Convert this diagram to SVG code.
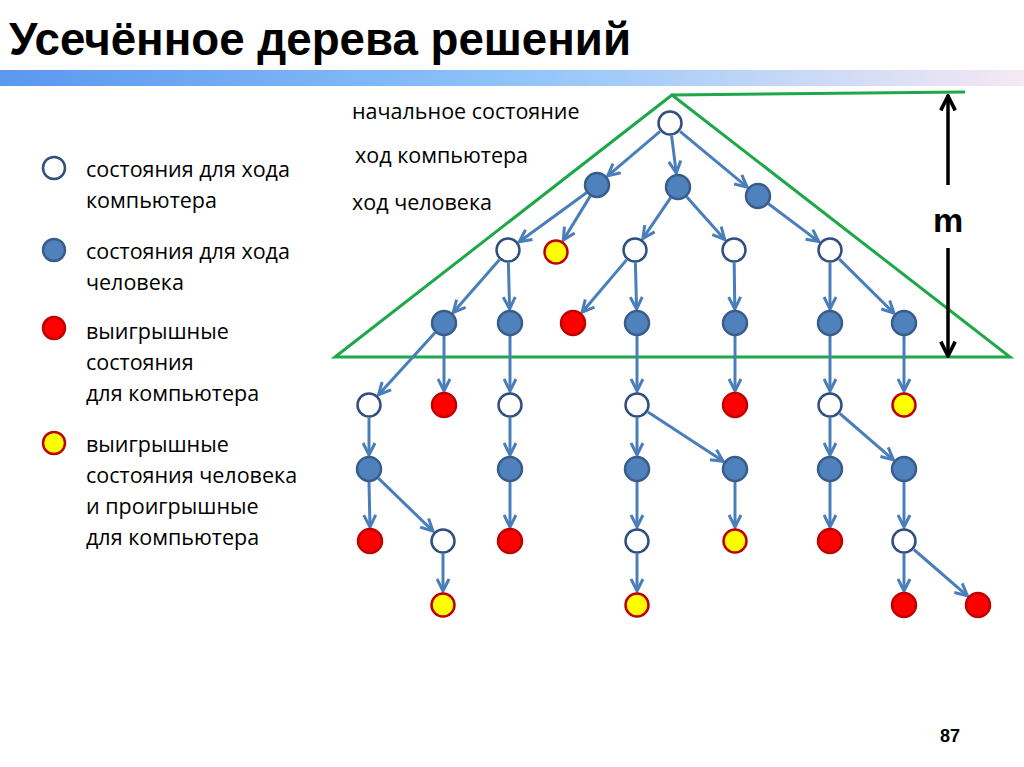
<svg xmlns="http://www.w3.org/2000/svg" width="1024" height="767" viewBox="0 0 1024 767">
<style>
.t{font-family:"Open Sans","Noto Sans",sans-serif;font-size:21.5px;fill:#000}
.e{stroke:#4a7ebb;stroke-width:3;fill:none;marker-end:url(#ah)}
.w{fill:#fff;stroke:#2f4f7f;stroke-width:2.5}
.b{fill:#4f81bd;stroke:#385d8a;stroke-width:2.5}
.r{fill:#ff0000;stroke:#c00000;stroke-width:2.5}
.y{fill:#ffff00;stroke:#c00000;stroke-width:2.5}
</style>
<defs>
<linearGradient id="bar" x1="0" x2="1" y1="0" y2="0">
<stop offset="0" stop-color="#5b97ee"/>
<stop offset="0.5" stop-color="#8ec4fa"/>
<stop offset="1" stop-color="#f6e8f4"/>
</linearGradient>
<marker id="ah" markerUnits="userSpaceOnUse" viewBox="0 0 10 10" markerWidth="15" markerHeight="15" refX="9" refY="5" orient="auto">
<path d="M1,1 L9,5 L1,9" fill="none" stroke="#4a7ebb" stroke-width="2"/>
</marker>
<marker id="bk" markerUnits="userSpaceOnUse" viewBox="0 0 10 10" markerWidth="18" markerHeight="18" refX="9" refY="5" orient="auto">
<path d="M1,1 L9,5 L1,9" fill="none" stroke="#000" stroke-width="2"/>
</marker>
</defs>
<rect width="1024" height="767" fill="#fff"/>
<text x="9" y="55" font-family="'Liberation Sans Narrow','Liberation Sans',sans-serif" font-weight="bold" font-size="46" textLength="622" lengthAdjust="spacingAndGlyphs">Усечённое дерева решений</text>
<rect x="0" y="70" width="1024" height="16" fill="url(#bar)"/>

<g id="legend">
<circle class="w" cx="54" cy="168" r="11"/>
<text class="t" x="86" y="177">состояния для хода</text>
<text class="t" x="86" y="208">компьютера</text>
<circle class="b" cx="54" cy="250" r="11"/>
<text class="t" x="86" y="259">состояния для хода</text>
<text class="t" x="86" y="290">человека</text>
<circle class="r" cx="54" cy="328" r="11"/>
<text class="t" x="86" y="339">выигрышные</text>
<text class="t" x="86" y="370">состояния</text>
<text class="t" x="86" y="401">для компьютера</text>
<circle class="y" cx="54" cy="443" r="11"/>
<text class="t" x="86" y="452">выигрышные</text>
<text class="t" x="86" y="483">состояния человека</text>
<text class="t" x="86" y="514">и проигрышные</text>
<text class="t" x="86" y="545">для компьютера</text>
</g>

<g id="labels">
<text class="t" x="352" y="119">начальное состояние</text>
<text class="t" x="355" y="163">ход компьютера</text>
<text class="t" x="352" y="210">ход человека</text>
</g>

<g id="bound" fill="none" stroke="#1fa84a" stroke-width="3">
<path d="M335,357 L672,95 L1010,357 Z"/>
<line x1="672" y1="95" x2="965" y2="92"/>
</g>
<g id="depth">
<line x1="948" y1="185" x2="948" y2="96" stroke="#000" stroke-width="3.5" marker-end="url(#bk)"/>
<line x1="948" y1="248" x2="948" y2="356" stroke="#000" stroke-width="3.5" marker-end="url(#bk)"/>
<text x="948" y="232" text-anchor="middle" font-family="'Liberation Sans',sans-serif" font-weight="bold" font-size="34">m</text>
</g>

<g id="edges">
<line class="e" x1="660.1" y1="131.4" x2="607.7" y2="175.9"/>
<line class="e" x1="671.6" y1="135.9" x2="676.3" y2="173.1"/>
<line class="e" x1="680" y1="131.3" x2="747.2" y2="187.1"/>
<line class="e" x1="586.5" y1="192.7" x2="519.3" y2="241.7"/>
<line class="e" x1="590.2" y1="196.1" x2="563.3" y2="240.1"/>
<line class="e" x1="670.7" y1="197.7" x2="642.9" y2="238.4"/>
<line class="e" x1="686.6" y1="196.7" x2="724.7" y2="239.5"/>
<line class="e" x1="768.4" y1="203.8" x2="818.8" y2="241.6"/>
<line class="e" x1="499.4" y1="259.8" x2="453.2" y2="312.5"/>
<line class="e" x1="508.4" y1="263" x2="509.6" y2="309"/>
<line class="e" x1="626.6" y1="259.9" x2="582.1" y2="312.3"/>
<line class="e" x1="635.4" y1="263" x2="636.6" y2="309"/>
<line class="e" x1="734.2" y1="263" x2="734.8" y2="309"/>
<line class="e" x1="830" y1="263" x2="830" y2="309"/>
<line class="e" x1="839.3" y1="259.1" x2="894" y2="313.2"/>
<line class="e" x1="435.2" y1="332.6" x2="378.5" y2="394.7"/>
<line class="e" x1="444" y1="336" x2="444" y2="391"/>
<line class="e" x1="510" y1="336" x2="510" y2="391"/>
<line class="e" x1="637" y1="336" x2="637" y2="391"/>
<line class="e" x1="735" y1="336" x2="735" y2="391"/>
<line class="e" x1="830" y1="336" x2="830" y2="391"/>
<line class="e" x1="904" y1="336" x2="904" y2="391"/>
<line class="e" x1="369" y1="418" x2="369" y2="455"/>
<line class="e" x1="510" y1="418" x2="510" y2="455"/>
<line class="e" x1="637" y1="418" x2="637" y2="455"/>
<line class="e" x1="647.9" y1="412.1" x2="723.3" y2="461.3"/>
<line class="e" x1="830" y1="418" x2="830" y2="455"/>
<line class="e" x1="839.8" y1="413.5" x2="893.4" y2="459.8"/>
<line class="e" x1="369" y1="482" x2="370" y2="527"/>
<line class="e" x1="378.3" y1="478.1" x2="433" y2="531.2"/>
<line class="e" x1="510" y1="482" x2="510" y2="527"/>
<line class="e" x1="637" y1="482" x2="637" y2="527"/>
<line class="e" x1="735" y1="482" x2="735" y2="527"/>
<line class="e" x1="830" y1="482" x2="830" y2="527"/>
<line class="e" x1="904" y1="482" x2="904" y2="527"/>
<line class="e" x1="443" y1="554" x2="443" y2="591"/>
<line class="e" x1="637" y1="554" x2="637" y2="591"/>
<line class="e" x1="904" y1="554" x2="904" y2="591"/>
<line class="e" x1="913.8" y1="549.5" x2="967.4" y2="595.8"/>
</g>

<g id="nodes">
<g id="n0"><circle class="w" cx="670" cy="123" r="11.5"/></g>
<g id="n1"><circle class="b" cx="597" cy="185" r="12"/></g>
<g id="n2"><circle class="b" cx="678" cy="187" r="12"/></g>
<g id="n3"><circle class="b" cx="758" cy="196" r="12"/></g>
<g id="n4"><circle class="w" cx="508" cy="250" r="11.5"/></g>
<g id="n5"><circle class="y" cx="556" cy="252" r="11.5"/></g>
<g id="n6"><circle class="w" cx="635" cy="250" r="11.5"/></g>
<g id="n7"><circle class="w" cx="734" cy="250" r="11.5"/></g>
<g id="n8"><circle class="w" cx="830" cy="250" r="11.5"/></g>
<g id="n9"><circle class="b" cx="444" cy="323" r="12"/></g>
<g id="n10"><circle class="b" cx="510" cy="323" r="12"/></g>
<g id="n11"><circle class="r" cx="573" cy="323" r="12"/></g>
<g id="n12"><circle class="b" cx="637" cy="323" r="12"/></g>
<g id="n13"><circle class="b" cx="735" cy="323" r="12"/></g>
<g id="n14"><circle class="b" cx="830" cy="323" r="12"/></g>
<g id="n15"><circle class="b" cx="904" cy="323" r="12"/></g>
<g id="n16"><circle class="w" cx="369" cy="405" r="11.5"/></g>
<g id="n17"><circle class="r" cx="444" cy="405" r="12"/></g>
<g id="n18"><circle class="w" cx="510" cy="405" r="11.5"/></g>
<g id="n19"><circle class="w" cx="637" cy="405" r="11.5"/></g>
<g id="n20"><circle class="r" cx="735" cy="405" r="12"/></g>
<g id="n21"><circle class="w" cx="830" cy="405" r="11.5"/></g>
<g id="n22"><circle class="y" cx="904" cy="405" r="11.5"/></g>
<g id="n23"><circle class="b" cx="369" cy="469" r="12"/></g>
<g id="n24"><circle class="b" cx="510" cy="469" r="12"/></g>
<g id="n25"><circle class="b" cx="637" cy="469" r="12"/></g>
<g id="n26"><circle class="b" cx="735" cy="469" r="12"/></g>
<g id="n27"><circle class="b" cx="830" cy="469" r="12"/></g>
<g id="n28"><circle class="b" cx="904" cy="469" r="12"/></g>
<g id="n29"><circle class="r" cx="370" cy="541" r="12"/></g>
<g id="n30"><circle class="w" cx="443" cy="541" r="11.5"/></g>
<g id="n31"><circle class="r" cx="510" cy="541" r="12"/></g>
<g id="n32"><circle class="w" cx="637" cy="541" r="11.5"/></g>
<g id="n33"><circle class="y" cx="735" cy="541" r="11.5"/></g>
<g id="n34"><circle class="r" cx="830" cy="541" r="12"/></g>
<g id="n35"><circle class="w" cx="904" cy="541" r="11.5"/></g>
<g id="n36"><circle class="y" cx="443" cy="605" r="11.5"/></g>
<g id="n37"><circle class="y" cx="637" cy="605" r="11.5"/></g>
<g id="n38"><circle class="r" cx="904" cy="605" r="12"/></g>
<g id="n39"><circle class="r" cx="978" cy="605" r="12"/></g>
</g>

<text x="940" y="742" font-family="'Liberation Sans',sans-serif" font-weight="bold" font-size="18">87</text>
</svg>
